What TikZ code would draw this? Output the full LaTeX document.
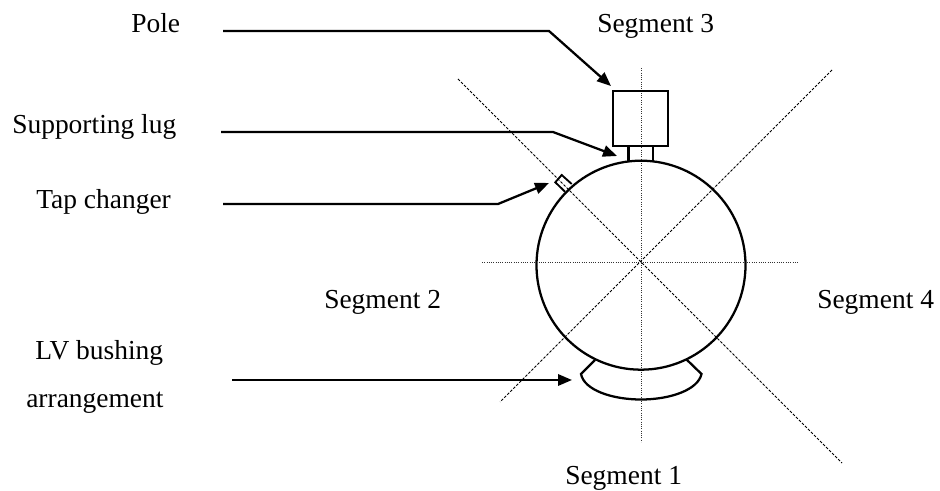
\documentclass[tikz,border=0pt]{standalone}
\usepackage{fontspec}
\setmainfont{Liberation Serif}
\usetikzlibrary{arrows.meta}
\tikzset{
  px/.style={x=0.75pt,y=-0.75pt},
  lbl/.style={font=\fontsize{20.6}{24}\selectfont,inner sep=0pt,anchor=base west},
  part/.style={line width=1.7pt,draw=black,line join=miter},
  leader/.style={line width=1.7pt,draw=black,-{Triangle[length=10.5pt,width=8.5pt]}},
  axis/.style={line width=0.7pt,draw=black!80,densely dotted},
  diag/.style={line width=0.7pt,draw=black,dash pattern=on 2pt off 1.2pt}
}
\begin{document}
\begin{tikzpicture}[px]
\useasboundingbox (0,0) rectangle (940,491);
% axes
\coordinate (vt) at (641,68); \coordinate (vb) at (641,442);
\coordinate (hl) at (482,262); \coordinate (hr) at (798,262);
\coordinate (d1a) at (458,79); \coordinate (d1b) at (842,463);
\coordinate (d2a) at (832,70); \coordinate (d2b) at (500,402);
\draw[axis] (vt) -- (vb);
\draw[axis] (hl) -- (hr);
\draw[diag] (d1a) -- (d1b);
\draw[diag] (d2a) -- (d2b);
% transformer
\node[part,circle,minimum size=156.75pt,inner sep=0pt,fill=none] (tank) at (641,265.2) {};
\node[part,rectangle,minimum width=41.25pt,minimum height=41.25pt,inner sep=0pt] (pole) at (640.2,118.2) {};
\coordinate (lugLt) at (628.5,146); \coordinate (lugLb) at (628.5,162);
\coordinate (lugRt) at (653,146); \coordinate (lugRb) at (653,162);
\draw[part] (lugLt) -- (lugLb);
\draw[part] (lugRt) -- (lugRb);
\coordinate (t1) at (561.7,175); \coordinate (t2) at (571.7,184);
\coordinate (t3) at (565,191.7); \coordinate (t4) at (555.3,182.3);
\draw[part,line width=1.4pt] (t3) -- (t4) -- (t1) -- (t2);
\coordinate (b1) at (595,360); \coordinate (b2) at (581,374);
\coordinate (b3) at (641,399.5); \coordinate (b4) at (701.5,374); \coordinate (b5) at (686,359);
\draw[part] (b1) -- (b2) .. controls (584,390) and (612,399.5) .. (b3) .. controls (670,399.5) and (698,390) .. (b4) -- (b5);
% labels
\node[lbl] (lpole) at (131,33) {Pole};
\node[lbl] (llug) at (12,134) {Supporting lug};
\node[lbl] (ltap) at (36,209) {Tap changer};
\node[lbl] (lv1) at (35,360) {LV bushing};
\node[lbl] (lv2) at (26,408) {arrangement};
\node[lbl] (s1) at (565,485) {Segment 1};
\node[lbl] (s2) at (324,309) {Segment 2};
\node[lbl] (s3) at (597,33) {Segment 3};
\node[lbl] (s4) at (817,309) {Segment 4};
% leaders
\coordinate (p0) at (223,31); \coordinate (p1) at (549,31); \coordinate (p2) at (611,86);
\coordinate (q0) at (221,132); \coordinate (q1) at (553,132); \coordinate (q2) at (617,156);
\coordinate (r0) at (223,204); \coordinate (r1) at (498,204); \coordinate (r2) at (549,183);
\coordinate (u0) at (232,380); \coordinate (u2) at (572,380);
\draw[leader] (p0) -- (p1) -- (p2);
\draw[leader] (q0) -- (q1) -- (q2);
\draw[leader] (r0) -- (r1) -- (r2);
\draw[leader] (u0) -- (u2);
\end{tikzpicture}
\end{document}
